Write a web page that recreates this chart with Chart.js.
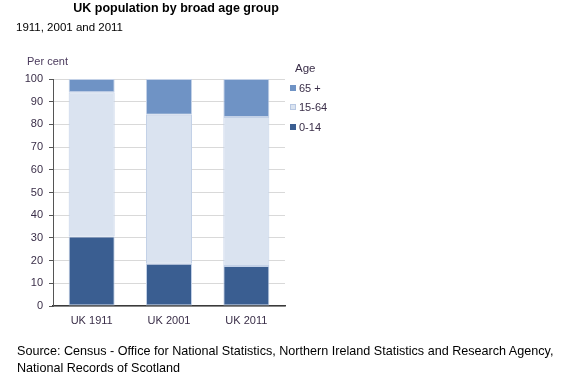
<!DOCTYPE html>
<html>
<head>
<meta charset="utf-8">
<script src="https://cdn.jsdelivr.net/npm/chart.js@4/dist/chart.umd.min.js"></script>
<style>
  html, body { margin:0; padding:0; background:#fff; }
  body { width:570px; height:382px; position:relative; overflow:hidden; font-family:"Liberation Sans", Arial, sans-serif; }
  #c { position:absolute; left:0; top:0; }
  .t { position:absolute; white-space:nowrap; line-height:1; }
  #title { left:0; width:352px; top:2px; text-align:center; font-weight:bold; font-size:12.5px; color:#000; }
  #sub { left:16px; top:22px; font-size:11.5px; color:#000; }
  #unit { left:27px; top:56px; font-size:11px; color:#4a3a5c; }
  #source { left:17px; top:343px; font-size:12.6px; line-height:17px; color:#000; }
  #legend { position:absolute; left:290px; top:61px; font-size:11px; color:#3a2e48; }
  #legend .h { margin-left:5px; height:14px; line-height:14px; margin-bottom:6px; font-size:11.5px; }
  #legend .row { height:19.3px; line-height:14px; display:flex; align-items:flex-start; }
  #legend .sw { width:6px; height:6px; margin-top:4px; margin-right:3px; box-sizing:border-box; }
</style>
</head>
<body>
<canvas id="c" width="570" height="382"></canvas>
<div class="t" id="title">UK population by broad age group</div>
<div class="t" id="sub">1911, 2001 and 2011</div>
<div class="t" id="unit">Per cent</div>
<div id="legend"></div>
<div class="t" id="source">Source: Census - Office for National Statistics, Northern Ireland Statistics and Research Agency,<br>National Records of Scotland</div>
<script>
const categories = ["UK 1911", "UK 2001", "UK 2011"];
const age0to14 = [30.6, 18.6, 17.6];
const age15to64 = [63.6, 65.6, 65.7];
const age65plus = [5.8, 15.8, 16.7];
const seriesNames = ["0-14", "15-64", "65 +"];
const yTicks = [0, 10, 20, 30, 40, 50, 60, 70, 80, 90, 100];

const colors = { "0-14": "#3a5e91", "15-64": "#dae3f0", "65 +": "#6f93c5" };
const seriesData = [age0to14, age15to64, age65plus];

const datasets = seriesNames.map((n, i) => ({
  label: n,
  data: seriesData[i],
  backgroundColor: colors[n],
  borderColor: "#c3d1e7",
  borderWidth: 1,
  borderSkipped: false,
  categoryPercentage: 1.0,
  barPercentage: 0.595
}));

// HTML legend (top to bottom: 65+, 15-64, 0-14)
const lg = document.getElementById('legend');
let html = '<div class="h">Age</div>';
seriesNames.slice().reverse().forEach(n => {
  const border = n === "15-64" ? "border:1px solid #b8c8e2;" : "";
  html += `<div class="row"><div class="sw" style="background:${colors[n]};${border}"></div><span>${n}</span></div>`;
});
lg.innerHTML = html;

new Chart(document.getElementById('c'), {
  type: 'bar',
  data: { labels: categories, datasets },
  options: {
    responsive: false,
    animation: false,
    devicePixelRatio: 1,
    layout: { padding: { left: 0, top: 79, right: 285, bottom: 0 } },
    plugins: { legend: { display: false }, title: { display: false }, tooltip: { enabled: false } },
    scales: {
      x: {
        stacked: true,
        grid: { display: false, drawTicks: false },
        border: { display: true, color: "#3a3a3a", width: 1.5 },
        ticks: { color: "#3a2e48", font: { family: "Liberation Sans", size: 11 }, padding: 8 },
        afterFit: s => { s.height = 76; }
      },
      y: {
        stacked: true,
        min: 0, max: 100,
        afterBuildTicks: s => { s.ticks = yTicks.map(v => ({ value: v })); },
        grid: { color: "#d9d9d9", lineWidth: 1, tickLength: 4, tickColor: "#555", drawTicks: true },
        border: { display: true, color: "#555", width: 1 },
        ticks: { color: "#3a2e48", font: { family: "Liberation Sans", size: 11 }, padding: 6 },
        afterFit: s => { s.width = 53; }
      }
    }
  }
});
</script>
</body>
</html>
